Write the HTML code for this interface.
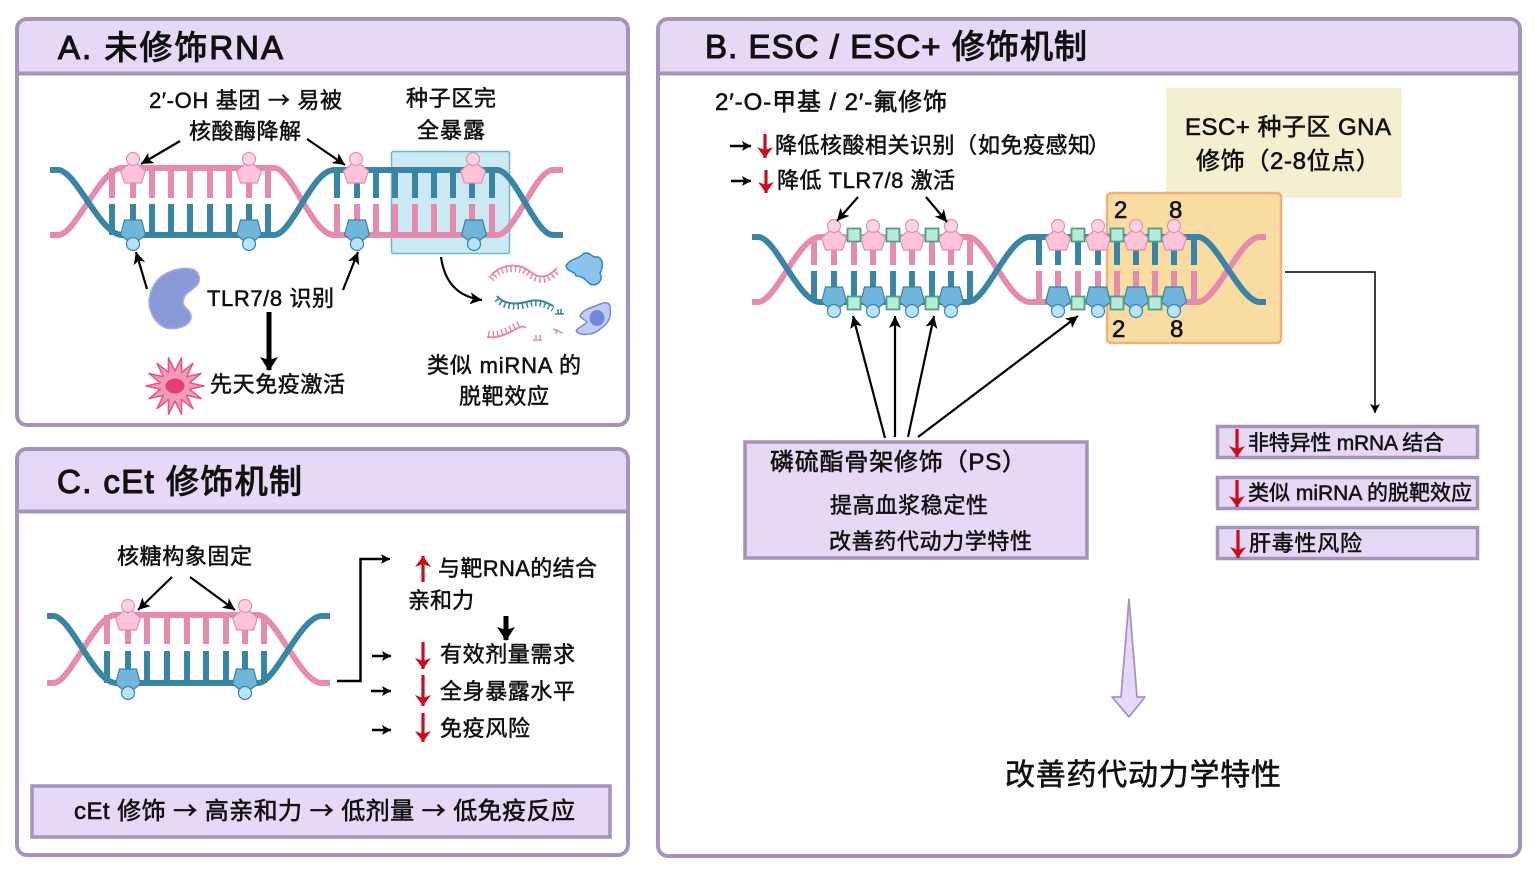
<!DOCTYPE html>
<html lang="zh">
<head>
<meta charset="utf-8">
<style>
html,body{margin:0;padding:0;background:#fff;width:1535px;height:871px;overflow:hidden}
svg{display:block}
text{font-family:"Liberation Sans","Noto Sans CJK SC",sans-serif;fill:#111;stroke:#111;stroke-width:.5}
.t{font-size:33px;stroke-width:1.1}
.n{font-size:22px}
.m{font-size:24px;stroke-width:.6}
.w{font-family:"Noto Sans CJK SC",sans-serif}
.p{fill:none;stroke:#e48cae;stroke-width:6}
.e{fill:none;stroke:#3a84a4;stroke-width:6}
.a{fill:none;stroke:#000;stroke-width:2.2;marker-end:url(#ah)}
.s{fill:none;stroke:#000;stroke-width:2.5;marker-end:url(#as)}
.r{fill:none;stroke:#c80f1e;stroke-width:3.2;marker-end:url(#ar)}
.panel{fill:#fff;stroke:#a693b9;stroke-width:4}
.hd{fill:#e7d8f6}
.box{fill:#e7d8f6;stroke:#a693b9;stroke-width:3.5}
</style>
</head>
<body>
<svg width="1535" height="871" viewBox="0 0 1535 871" xmlns="http://www.w3.org/2000/svg">
<defs>
<marker id="ah" markerUnits="userSpaceOnUse" markerWidth="14" markerHeight="14" refX="12" refY="7" orient="auto"><path d="M0 1 12 7 0 13 3 7z" fill="#000"/></marker>
<marker id="as" markerUnits="userSpaceOnUse" markerWidth="11" markerHeight="12" refX="9" refY="6" orient="auto"><path d="M0 1 9 6 0 11 2 6z" fill="#000"/></marker>
<marker id="ar" markerUnits="userSpaceOnUse" markerWidth="16" markerHeight="18" refX="11" refY="9" orient="auto"><path d="M0 1 11 9 0 17 3 9z" fill="#c80f1e"/></marker>
<marker id="ak" markerUnits="userSpaceOnUse" markerWidth="20" markerHeight="22" refX="13" refY="11" orient="auto"><path d="M0 2 14 11 0 20 3 11z" fill="#000"/></marker>
<g id="pp"><path d="M0-10 12.500 1 8.500 13H-8.500L-12.500 1z" fill="#fcc3da" stroke="#e08fb0" stroke-width="1.200"/><circle cx="0" cy="-11" r="6.500" fill="#f9d3e2" stroke="#dc94b2" stroke-width="1.200"/></g>
<g id="bp"><path d="M-8.500-15H8.500L12.500 0 0 10-12.500 0z" fill="#70b5dc" stroke="#3d7f9f" stroke-width="1.200"/><circle cx="0" cy="9" r="6.500" fill="#b9e3f8" stroke="#3b84a5" stroke-width="1.200"/></g>
<rect id="sq" x="-6.500" y="-6.500" width="13" height="13" fill="#b6ecd8" stroke="#529f88" stroke-width="1.800"/>
</defs>

<!-- Panel A -->
<rect class="panel" x="17" y="19" width="611" height="406" rx="10"/>
<path class="hd" d="M19 72V29a8 8 0 0 1 8-8H618a8 8 0 0 1 8 8V72z"/>
<path d="M17 73.500H628" stroke="#a693b9" stroke-width="4"/>
<text class="t" x="58" y="59" textLength="225">A. 未修饰RNA</text>

<rect x="391.500" y="151.500" width="118" height="102" rx="2" fill="#cde9f4" stroke="#6db6d6" stroke-width="1.500"/>
<path class="p" d="M50 235H58C76 235 100 168 122 168H274C292 168 312 235 334 235H497C515 235 535 170 553 170H563"/>
<path class="e" d="M50 170H58C76 170 100 235 122 235H274C292 235 312 170 334 170H497C515 170 535 235 553 235H563"/>
<path class="p" d="M112 168V198M133 168V198M152 168V198M171 168V198M190 168V198M210 168V198M229 168V198M249 168V198M268 168V198M337 204V235M357 204V235M376 204V235M395 204V235M415 204V235M434 204V235M453 204V235M472 204V235M492 204V235"/>
<path class="e" d="M112 204V235M133 204V235M152 204V235M171 204V235M190 204V235M210 204V235M229 204V235M249 204V235M268 204V235M337 169V198M357 169V198M376 169V198M395 169V198M415 169V198M434 169V198M453 169V198M472 169V198M492 169V198"/>
<use href="#pp" x="133" y="170"/><use href="#pp" x="249" y="170"/><use href="#pp" x="356" y="170"/><use href="#pp" x="473" y="170"/>
<use href="#bp" x="133" y="235"/><use href="#bp" x="249" y="235"/><use href="#bp" x="357" y="235"/><use href="#bp" x="474" y="235"/>

<text class="n" x="149" y="108" textLength="193">2′-OH 基团 <tspan class="w">→</tspan> 易被</text>
<text class="n" x="189" y="139" textLength="112">核酸酶降解</text>
<text class="n" x="406" y="106" textLength="90">种子区完</text>
<text class="n" x="417" y="138" textLength="68">全暴露</text>
<text class="n" x="207" y="306" textLength="127">TLR7/8 识别</text>
<text class="n" x="210" y="392" textLength="135">先天免疫激活</text>
<text class="n" x="427" y="373" textLength="154">类似 miRNA 的</text>
<text class="n" x="459" y="404" textLength="90">脱靶效应</text>

<path class="a" d="M180 141 141 164"/>
<path class="a" d="M307 139 345 165"/>
<path class="a" d="M147 289 136 252"/>
<path class="a" d="M343 290 358 252"/>
<path class="a" d="M441 257C445 285 460 297 482 300"/>
<path d="M269 312V370" stroke="#000" stroke-width="5" fill="none" marker-end="url(#ak)"/>

<path d="M192 269C199 271 201 279 198 284C193 291 184 292 183 302C183 308 192 310 191 318C189 327 176 330 166 328C155 324 149 312 149 301C150 289 156 279 165 274C174 269 185 267 192 269z" fill="#8a9ad9" stroke="#a3afdf" stroke-width="1.500"/>
<g transform="translate(175 386)">
<polygon points="29,0 14.600,3.300 26,12.600 11.700,9.300 18,22.700 6.500,13.500 6.500,28.300 0,15 -6.500,28.300 -6.500,13.500 -18,22.700 -11.700,9.300 -26,12.600 -14.600,3.300 -29,0 -14.600,-3.300 -26,-12.600 -11.700,-9.300 -18,-22.700 -6.500,-13.500 -6.500,-28.300 0,-15 6.500,-28.300 6.500,-13.500 18,-22.700 11.700,-9.300 26,-12.600 14.600,-3.300" fill="#f19abb" stroke="#e7557f" stroke-width="1.500" stroke-linejoin="round"/>
<ellipse cx="0" cy="0" rx="9.500" ry="7.500" fill="#e63e73"/>
</g>

<!-- fragments -->
<g fill="none">
<path d="M491 276C500 264 518 263 528 270C537 278 546 280 557 268" stroke="#e48cae" stroke-width="2"/>
<path d="M491 279C500 267 518 266 528 273C537 281 546 283 557 271" stroke="#e48cae" stroke-width="7" stroke-dasharray="1.500 3"/>
<path d="M497 296C505 306 520 304 530 301C540 299 546 302 553 306" stroke="#3a84a4" stroke-width="2"/>
<path d="M497 299C505 309 520 307 530 304C540 302 546 305 553 309" stroke="#3a84a4" stroke-width="6" stroke-dasharray="1.500 3"/>
<path d="M555 314H564M558 309V314M561 309V314" stroke="#3a84a4" stroke-width="1.500"/>
<path d="M487 337C500 339 510 332 520 327C523 326 525 327 526 328" stroke="#e48cae" stroke-width="2"/>
<path d="M488 334C500 336 510 329 520 324" stroke="#e48cae" stroke-width="7" stroke-dasharray="1.500 3"/>
<path d="M533 340H542M536 335V340M540 335V340M553 329 563 333M557 329 556 334" stroke="#e48cae" stroke-width="1.500"/>
</g>
<path d="M566 266C570 258 578 260 583 254C590 250 590 258 598 257C604 260 603 268 600 273C604 281 596 287 590 284C586 280 582 276 576 276C574 270 568 273 566 266z" fill="#8cc4ec" stroke="#3d85c6" stroke-width="1.600"/>
<path d="M580 316C584 308 592 308 598 305C604 302 611 301 610 309C612 317 607 325 600 329C594 335 582 336 577 332C574 329 584 326 587 322C586 320 581 319 580 316z" fill="#c4ccf4" stroke="#7a8ed8" stroke-width="1.600"/>
<ellipse cx="597" cy="318" rx="7.500" ry="8" fill="#7088d8"/>

<!-- Panel C -->
<rect class="panel" x="17" y="449" width="611" height="406" rx="10"/>
<path class="hd" d="M19 510V459a8 8 0 0 1 8-8H618a8 8 0 0 1 8 8V510z"/>
<path d="M17 511.500H628" stroke="#a693b9" stroke-width="4"/>
<text class="t" x="57" y="493" textLength="245">C. cEt 修饰机制</text>

<path class="p" d="M47 683H53C71 683 94 615 116 615H258C276 615 300 683 322 683H330"/>
<path class="e" d="M47 616H53C71 616 94 683 116 683H258C276 683 300 616 322 616H330"/>
<path class="p" d="M107 615V644M128 615V644M147 615V644M167 615V644M187 615V644M206 615V644M226 615V644M245 615V644M264 615V644"/>
<path class="e" d="M107 651V683M128 651V683M147 651V683M167 651V683M187 651V683M206 651V683M226 651V683M245 651V683M264 651V683"/>
<use href="#pp" x="128" y="617"/><use href="#pp" x="245" y="617"/>
<use href="#bp" x="128" y="684"/><use href="#bp" x="245" y="684"/>

<text class="n" x="117" y="564" textLength="135">核糖构象固定</text>
<path class="a" d="M172 577 138 610"/>
<path class="a" d="M190 577 235 610"/>
<path d="M337 681H360.500V559H390" fill="none" stroke="#000" stroke-width="2.500" marker-end="url(#as)"/>

<path class="r" d="M423 582V556"/>
<text class="n" x="438" y="576" textLength="159">与靶RNA的结合</text>
<text class="n" x="408" y="608" textLength="66">亲和力</text>
<path d="M506 616V640" stroke="#000" stroke-width="5" fill="none" marker-end="url(#ak)"/>
<path class="s" d="M372 656H391"/><path class="s" d="M371 691H391"/><path class="s" d="M372 730H391"/>
<path class="r" d="M423 642V669"/><path class="r" d="M423 675V706"/><path class="r" d="M423 713V742"/>
<text class="n" x="440" y="662" textLength="135">有效剂量需求</text>
<text class="n" x="440" y="699" textLength="135">全身暴露水平</text>
<text class="n" x="440" y="736" textLength="90">免疫风险</text>

<rect class="box" x="32" y="786" width="578" height="51"/>
<text class="m" x="74" y="819" textLength="501">cEt 修饰 <tspan class="w">→</tspan> 高亲和力 <tspan class="w">→</tspan> 低剂量 <tspan class="w">→</tspan> 低免疫反应</text>

<!-- Panel B -->
<rect class="panel" x="658" y="19" width="862" height="837" rx="10"/>
<path class="hd" d="M660 72V29a8 8 0 0 1 8-8H1510a8 8 0 0 1 8 8V72z"/>
<path d="M658 73.500H1520" stroke="#a693b9" stroke-width="4"/>
<text class="t" x="705" y="58" textLength="382">B. ESC / ESC+ 修饰机制</text>

<text class="m" x="715" y="110" textLength="232">2′-O-甲基 / 2′-氟修饰</text>
<path class="s" d="M730 146H751"/><path class="r" d="M765 134V158"/>
<text class="n" x="775" y="153" textLength="202">降低核酸相关识别（</text>
<text class="n" x="978" y="153" textLength="112">如免疫感知</text>
<text class="n" x="1088" y="153">）</text>
<path class="s" d="M731 181H751"/><path class="r" d="M766 170V193"/>
<text class="n" x="777" y="188" textLength="178">降低 TLR7/8 激活</text>

<rect x="1166" y="88" width="236" height="110" fill="#f5efd2"/>
<rect x="1107" y="193" width="174" height="150" rx="4" fill="#f9dca2" stroke="#eeb27a" stroke-width="2.500"/>
<text class="m" x="1185" y="135" textLength="206">ESC+ 种子区 GNA</text>
<text class="m" x="1196" y="169" textLength="184">修饰（2-8位点）</text>

<path class="p" d="M752 302H758C776 302 798 237 820 237H968C986 237 1008 302 1030 302H1198C1216 302 1240 237 1260 237H1266"/>
<path class="e" d="M752 237H758C776 237 798 302 820 302H968C986 302 1008 237 1030 237H1198C1216 237 1240 302 1260 302H1266"/>
<path class="p" d="M814 237V265M834 237V265M854 237V265M873 237V265M893 237V265M912 237V265M932 237V265M951 237V265M970 237V265M1039 271V302M1058 271V302M1078 271V302M1098 271V302M1117 271V302M1136 271V302M1155 271V302M1174 271V302M1194 271V302"/>
<path class="e" d="M814 271V302M834 271V302M854 271V302M873 271V302M893 271V302M912 271V302M932 271V302M951 271V302M970 271V302M1039 237V265M1058 237V265M1078 237V265M1098 237V265M1117 237V265M1136 237V265M1155 237V265M1174 237V265M1194 237V265"/>
<use href="#pp" x="834" y="237"/><use href="#pp" x="873" y="237"/><use href="#pp" x="912" y="237"/><use href="#pp" x="951" y="237"/>
<use href="#pp" x="1058" y="237"/><use href="#pp" x="1098" y="237"/><use href="#pp" x="1136" y="237"/><use href="#pp" x="1174" y="237"/>
<use href="#bp" x="834" y="302"/><use href="#bp" x="873" y="302"/><use href="#bp" x="912" y="302"/><use href="#bp" x="951" y="302"/>
<use href="#bp" x="1058" y="302"/><use href="#bp" x="1098" y="302"/><use href="#bp" x="1136" y="302"/><use href="#bp" x="1174" y="302"/>
<use href="#sq" x="854" y="235"/><use href="#sq" x="893" y="235"/><use href="#sq" x="932" y="235"/>
<use href="#sq" x="1078" y="235"/><use href="#sq" x="1117" y="235"/><use href="#sq" x="1155" y="235"/>
<use href="#sq" x="854" y="303"/><use href="#sq" x="893" y="303"/><use href="#sq" x="932" y="303"/>
<use href="#sq" x="1078" y="303"/><use href="#sq" x="1117" y="303"/><use href="#sq" x="1155" y="303"/>

<text class="m" x="1114" y="218">2</text><text class="m" x="1169" y="218">8</text>
<text class="m" x="1112" y="337">2</text><text class="m" x="1170" y="337">8</text>

<path class="a" d="M858 197 837 221"/>
<path class="a" d="M926 197 947 222"/>
<path class="a" d="M885 438 853 316"/>
<path class="a" d="M895 437V316"/>
<path class="a" d="M908 437 934 316"/>
<path class="a" d="M918 437 1078 316"/>
<path d="M1285 272H1375V413" fill="none" stroke="#000" stroke-width="1.500" marker-end="url(#as)"/>

<rect class="box" x="745" y="442" width="342" height="116"/>
<text class="m" x="770" y="470" textLength="256">磷硫酯骨架修饰（PS）</text>
<text class="n" x="830" y="513" textLength="158">提高血浆稳定性</text>
<text class="n" x="829" y="549" textLength="203">改善药代动力学特性</text>

<rect class="box" x="1217.500" y="426.500" width="260" height="31"/>
<rect class="box" x="1217.500" y="477.500" width="260" height="31"/>
<rect class="box" x="1217.500" y="527.500" width="260" height="31"/>
<path class="r" d="M1237 429V457"/><path class="r" d="M1237 480V507"/><path class="r" d="M1238 530V558"/>
<text class="n" style="font-size:21px" x="1248" y="450" textLength="196">非特异性 mRNA 结合</text>
<text class="n" style="font-size:21px" x="1248" y="500" textLength="224">类似 miRNA 的脱靶效应</text>
<text class="n" x="1249" y="551" textLength="113">肝毒性风险</text>

<path d="M1129 599 1137 697H1145L1129 717 1112 697H1121z" fill="#e6d8f6" stroke="#a893c2" stroke-width="1.800" stroke-linejoin="round"/>
<text x="1005" y="785" style="font-size:30px;stroke-width:.6" textLength="276">改善药代动力学特性</text>
</svg>
</body>
</html>
